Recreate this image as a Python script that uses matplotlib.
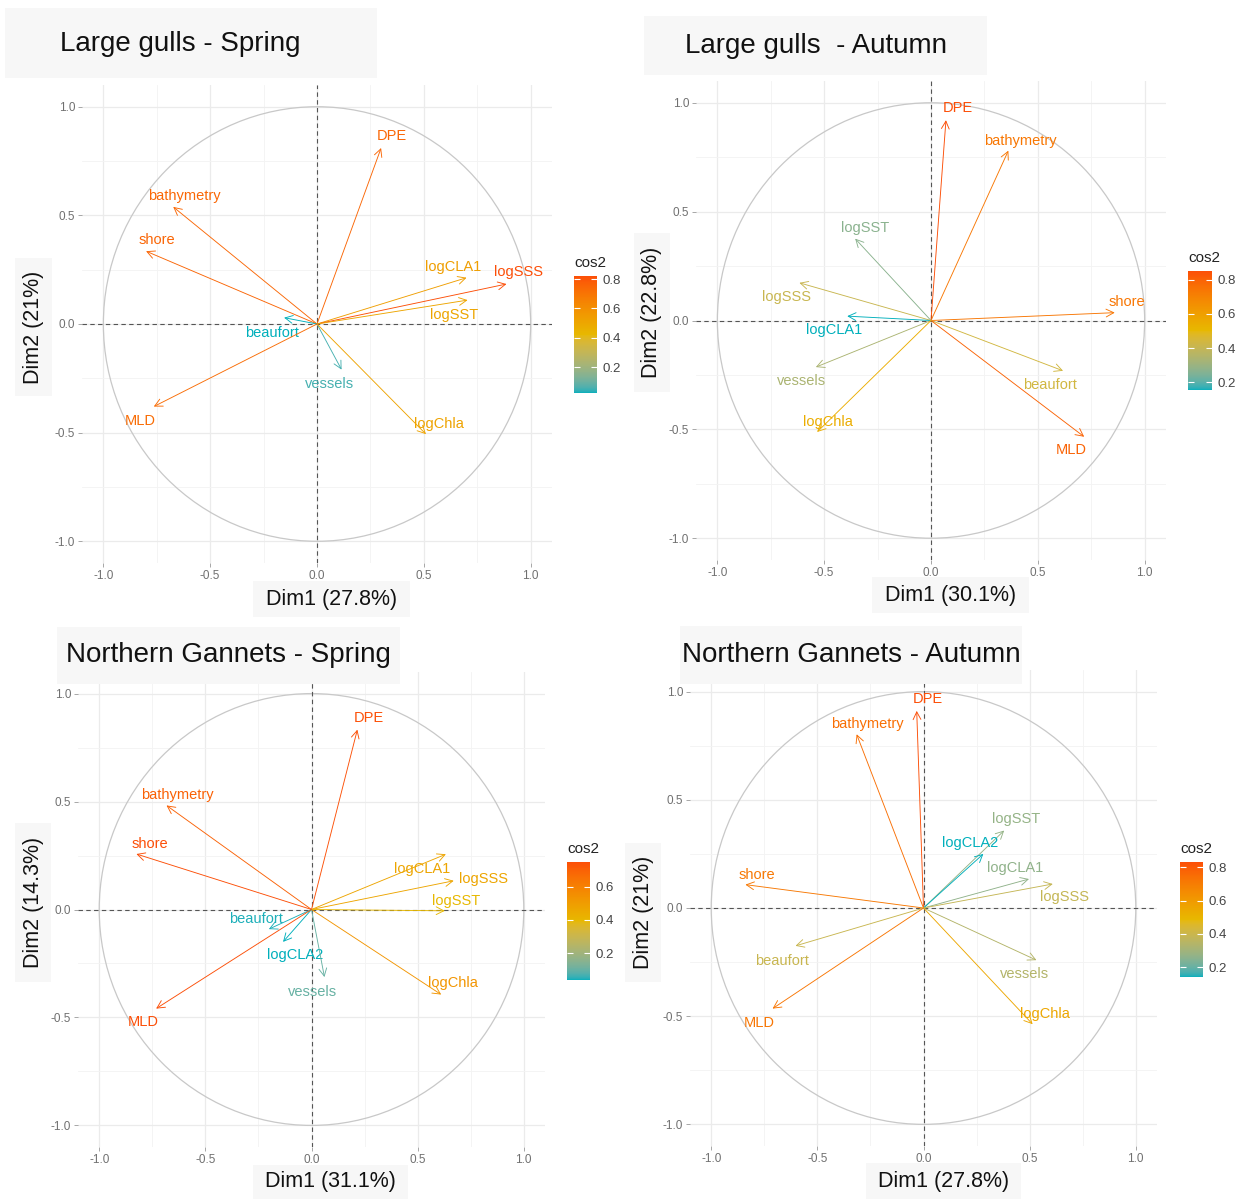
import numpy as np
import matplotlib.pyplot as plt
from matplotlib.colors import ListedColormap, Normalize, to_rgb
from matplotlib.patches import Rectangle, Circle

plt.rcParams["font.family"] = ["Liberation Sans", "DejaVu Sans"]

W, H = 1237, 1200

# Large gulls - Spring
LGS_VARS = ["DPE", "bathymetry", "shore", "logCLA1", "logSSS", "logSST",
            "beaufort", "vessels", "logChla", "MLD"]
LGS_DIM1 = [0.30, -0.673, -0.80, 0.70, 0.887, 0.705, -0.154, 0.115, 0.51, -0.764]
LGS_DIM2 = [0.81, 0.539, 0.335, 0.213, 0.184, 0.11, 0.029, -0.21, -0.507, -0.38]

# Large gulls - Autumn
LGA_VARS = ["DPE", "bathymetry", "logSST", "logSSS", "logCLA1", "shore",
            "beaufort", "MLD", "vessels", "logChla"]
LGA_DIM1 = [0.07, 0.362, -0.355, -0.616, -0.392, 0.86, 0.618, 0.717, -0.539, -0.533]
LGA_DIM2 = [0.92, 0.78, 0.376, 0.173, 0.02, 0.036, -0.231, -0.534, -0.214, -0.512]

# Northern gannets - Spring
NGS_VARS = ["DPE", "bathymetry", "shore", "logCLA1", "logSSS", "logSST",
            "beaufort", "logCLA2", "vessels", "logChla", "MLD"]
NGS_DIM1 = [0.216, -0.683, -0.825, 0.633, 0.670, 0.628, -0.201, -0.134, 0.061, 0.611, -0.732]
NGS_DIM2 = [0.833, 0.482, 0.257, 0.256, 0.133, -0.006, -0.091, -0.150, -0.313, -0.394, -0.459]

# Northern gannets - Autumn
NGA_VARS = ["DPE", "bathymetry", "shore", "logSST", "logCLA2", "logCLA1",
            "logSSS", "beaufort", "vessels", "logChla", "MLD"]
NGA_DIM1 = [-0.032, -0.315, -0.839, 0.380, 0.282, 0.497, 0.609, -0.603, 0.532, 0.514, -0.711]
NGA_DIM2 = [0.911, 0.803, 0.108, 0.358, 0.25, 0.134, 0.111, -0.175, -0.241, -0.537, -0.465]

TITLES = ["Large gulls - Spring", "Large gulls  - Autumn",
          "Northern Gannets - Spring", "Northern Gannets - Autumn"]
XLABELS = ["Dim1 (27.8%)", "Dim1 (30.1%)", "Dim1 (31.1%)", "Dim1 (27.8%)"]
YLABELS = ["Dim2 (21%)", "Dim2 (22.8%)", "Dim2 (14.3%)", "Dim2 (21%)"]

# label nudges (data units) away from the arrow tips
LGS_NUDGE = [(0.05, 0.055), (0.05, 0.05), (0.05, 0.05), (-0.065, 0.05), (0.055, 0.055),
             (-0.065, -0.07), (-0.055, -0.07), (-0.055, -0.067), (0.06, 0.045), (-0.065, -0.068)]
LGA_NUDGE = [(0.055, 0.057), (0.055, 0.046), (0.048, 0.047), (-0.06, -0.065), (-0.062, -0.063),
             (0.059, 0.05), (-0.059, -0.067), (-0.059, -0.063), (-0.066, -0.066), (0.05, 0.048)]
NGS_NUDGE = [(0.054, 0.055), (0.05, 0.048), (0.062, 0.045), (-0.112, -0.068), (0.14, 0.008),
             (0.052, 0.046), (-0.06, 0.048), (0.056, -0.062), (-0.055, -0.07), (0.056, 0.053),
             (-0.06, -0.062)]
NGA_NUDGE = [(0.054, 0.053), (0.05, 0.046), (0.054, 0.046), (0.056, 0.054), (-0.063, 0.05),
             (-0.067, 0.05), (0.055, -0.062), (-0.063, -0.069), (-0.055, -0.065), (0.056, 0.046),
             (-0.063, -0.065)]

GRADIENT_COLS = ["#00AFBB", "#E7B800", "#FC4E07"]
BOX_FILL = "#f7f7f7"

# D65 white point and sRGB matrices for Lab interpolation (as ggplot does)
WHITE = np.array([0.95047, 1.0, 1.08883])
M_RGB2XYZ = np.array([[0.4124, 0.3576, 0.1805],
                      [0.2126, 0.7152, 0.0722],
                      [0.0193, 0.1192, 0.9505]])
M_XYZ2RGB = np.linalg.inv(M_RGB2XYZ)


def rgb_to_lab(rgb):
    rgb = np.asarray(rgb, dtype=float)
    lin = np.where(rgb <= 0.04045, rgb / 12.92, ((rgb + 0.055) / 1.055) ** 2.4)
    xyz = M_RGB2XYZ @ lin / WHITE
    f = np.where(xyz > 0.008856, np.cbrt(xyz), 7.787 * xyz + 16 / 116)
    return np.array([116 * f[1] - 16, 500 * (f[0] - f[1]), 200 * (f[1] - f[2])])


def lab_to_rgb(lab):
    L, a, b = lab
    fy = (L + 16) / 116
    fx = fy + a / 500
    fz = fy - b / 200
    f = np.array([fx, fy, fz])
    xyz = np.where(f ** 3 > 0.008856, f ** 3, (f - 16 / 116) / 7.787) * WHITE
    lin = M_XYZ2RGB @ xyz
    lin = np.clip(lin, 0, 1)
    rgb = np.where(lin <= 0.0031308, 12.92 * lin, 1.055 * lin ** (1 / 2.4) - 0.055)
    return np.clip(rgb, 0, 1)


def lab_gradient(cols, n=256):
    labs = [rgb_to_lab(to_rgb(c)) for c in cols]
    pos = np.linspace(0, 1, len(cols))
    out = []
    for t in np.linspace(0, 1, n):
        k = min(np.searchsorted(pos, t, side="right") - 1, len(cols) - 2)
        u = (t - pos[k]) / (pos[k + 1] - pos[k])
        out.append(lab_to_rgb((1 - u) * labs[k] + u * labs[k + 1]))
    return ListedColormap(out)


GRADIENT = lab_gradient(GRADIENT_COLS)


def px_box(l, t, r, b):
    return [l / W, 1 - b / H, (r - l) / W, (b - t) / H]


def fig_rect(fig, l, t, r, b):
    x, y, w, h = px_box(l, t, r, b)
    fig.patches.append(Rectangle((x, y), w, h, transform=fig.transFigure,
                                 facecolor=BOX_FILL, edgecolor="none", zorder=0))


def draw_panel(fig, layout, names, dim1, dim2, nudge):
    ax = fig.add_axes(px_box(*layout["axes"]))
    dim1 = np.array(dim1)
    dim2 = np.array(dim2)
    cos2 = dim1 ** 2 + dim2 ** 2
    norm = Normalize(cos2.min(), cos2.max())

    ax.set_xlim(-1.1, 1.1)
    ax.set_ylim(-1.1, 1.1)
    for s in ax.spines.values():
        s.set_visible(False)
    ax.set_xticks([-1.0, -0.5, 0.0, 0.5, 1.0])
    ax.set_yticks([-1.0, -0.5, 0.0, 0.5, 1.0])
    ax.set_xticks([-0.75, -0.25, 0.25, 0.75], minor=True)
    ax.set_yticks([-0.75, -0.25, 0.25, 0.75], minor=True)
    ax.set_xticklabels(["-1.0", "-0.5", "0.0", "0.5", "1.0"])
    ax.set_yticklabels(["-1.0", "-0.5", "0.0", "0.5", "1.0"])
    ax.tick_params(which="major", length=3, width=0.6, color="#999999",
                   labelsize=8.5, labelcolor="#707070", pad=2)
    ax.tick_params(which="minor", length=0)
    ax.grid(which="major", color="#ebebeb", linewidth=0.9)
    ax.grid(which="minor", color="#f3f3f3", linewidth=0.6)
    ax.set_axisbelow(True)

    ax.add_patch(Circle((0, 0), 1, fill=False, edgecolor="#c8c8c8", linewidth=0.9))
    ax.axhline(0, color="#555555", linestyle=(0, (4, 3)), linewidth=0.8)
    ax.axvline(0, color="#555555", linestyle=(0, (4, 3)), linewidth=0.8)

    for name, x, y, c, (dx, dy) in zip(names, dim1, dim2, cos2, nudge):
        col = GRADIENT(norm(c))
        ax.annotate("", xy=(x, y), xytext=(0, 0),
                    arrowprops=dict(arrowstyle="->,head_length=0.55,head_width=0.28",
                                    color=col, lw=0.65, shrinkA=0, shrinkB=0,
                                    mutation_scale=10))
        ax.text(x + dx, y + dy, name, color=col, fontsize=10.5, ha="center", va="center")

    # cos2 colour bar
    cax = fig.add_axes(px_box(*layout["cbar"]))
    sm = plt.cm.ScalarMappable(norm=norm, cmap=GRADIENT)
    ticks = [t for t in (0.2, 0.4, 0.6, 0.8) if norm.vmin <= t <= norm.vmax]
    cb = fig.colorbar(sm, cax=cax, ticks=ticks)
    cb.outline.set_visible(False)
    cb.ax.tick_params(left=True, right=True, labelleft=False, labelright=True,
                      direction="in", length=4, width=0.8, color="white",
                      labelsize=9.5, labelcolor="#444444", pad=4)
    cb.ax.set_yticklabels([f"{t:.1f}" for t in ticks])
    l, t, r, b = layout["cbar"]
    fig.text(l / W, 1 - (t - 6) / H, "cos2", fontsize=11, color="#222222",
             ha="left", va="bottom")

    # title and axis title boxes
    fig_rect(fig, *layout["title_box"])
    tx, ty = layout["title_xy"]
    fig.text(tx / W, 1 - ty / H, layout["title"], fontsize=20, color="#111111",
             ha="left", va="center")
    fig_rect(fig, *layout["xlab_box"])
    bx = layout["xlab_box"]
    fig.text((bx[0] + bx[2]) / 2 / W, 1 - (bx[1] + bx[3]) / 2 / H, layout["xlabel"],
             fontsize=15.5, color="#111111", ha="center", va="center")
    fig_rect(fig, *layout["ylab_box"])
    by = layout["ylab_box"]
    fig.text((by[0] + by[2]) / 2 / W, 1 - (by[1] + by[3]) / 2 / H, layout["ylabel"],
             fontsize=15.5, color="#111111", ha="center", va="center", rotation=90)
    return ax


LAYOUTS = [
    dict(axes=(82, 85, 552, 563), cbar=(574, 276, 597, 393),
         title_box=(5, 8, 377, 78), title_xy=(60, 44),
         xlab_box=(253, 581, 410, 617), ylab_box=(15, 258, 52, 396)),
    dict(axes=(696, 81, 1166, 560), cbar=(1188, 271, 1212, 390),
         title_box=(644, 16, 987, 75), title_xy=(685, 46),
         xlab_box=(872, 577, 1029, 613), ylab_box=(634, 233, 670, 392)),
    dict(axes=(78, 672, 545, 1147), cbar=(567, 862, 590, 980),
         title_box=(57, 627, 400, 684), title_xy=(66, 655),
         xlab_box=(253, 1165, 408, 1199), ylab_box=(15, 823, 51, 982)),
    dict(axes=(690, 670, 1157, 1146), cbar=(1180, 862, 1203, 977),
         title_box=(680, 626, 1022, 684), title_xy=(682, 655),
         xlab_box=(866, 1163, 1021, 1199), ylab_box=(625, 843, 661, 982)),
]

PANELS = [
    (LGS_VARS, LGS_DIM1, LGS_DIM2, LGS_NUDGE),
    (LGA_VARS, LGA_DIM1, LGA_DIM2, LGA_NUDGE),
    (NGS_VARS, NGS_DIM1, NGS_DIM2, NGS_NUDGE),
    (NGA_VARS, NGA_DIM1, NGA_DIM2, NGA_NUDGE),
]


def main():
    fig = plt.figure(figsize=(W / 100, H / 100), dpi=100)
    fig.patch.set_facecolor("white")
    for i, (names, d1, d2, nudge) in enumerate(PANELS):
        layout = dict(LAYOUTS[i], title=TITLES[i], xlabel=XLABELS[i], ylabel=YLABELS[i])
        draw_panel(fig, layout, names, d1, d2, nudge)
    fig.savefig("out.png", dpi=100, facecolor="white")


if __name__ == "__main__":
    main()
